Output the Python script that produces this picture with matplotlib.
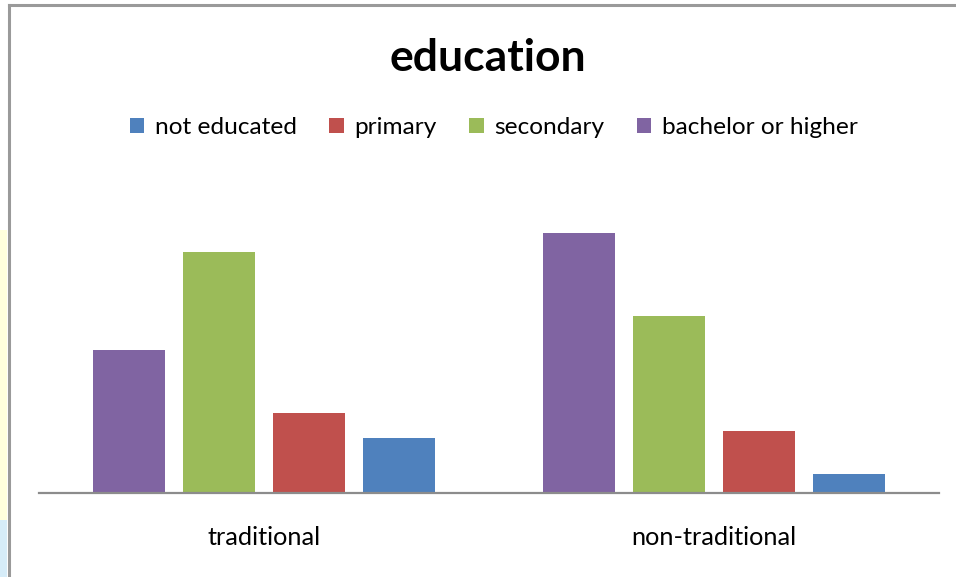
import matplotlib
matplotlib.use("Agg")
import matplotlib.pyplot as plt
from matplotlib.patches import Rectangle, Patch
from matplotlib.lines import Line2D

# Share of each education level (%) per group
categories = ["traditional", "non-traditional"]
series_names = ["bachelor or higher", "secondary", "primary", "not educated"]
bachelor = [27.6, 50.1]
secondary = [46.4, 34.1]
primary = [15.4, 11.9]
not_educated = [10.6, 3.7]

series_values = [bachelor, secondary, primary, not_educated]
colors = {
    "not educated": "#4F81BD",
    "primary": "#C0504D",
    "secondary": "#9BBB59",
    "bachelor or higher": "#8064A2",
}
legend_order = ["not educated", "primary", "secondary", "bachelor or higher"]

W, H = 956, 577
fig = plt.figure(figsize=(W / 100, H / 100), dpi=100)
fig.patch.set_facecolor("white")
plt.rcParams["font.family"] = ["Lato", "DejaVu Sans"]

# chart frame
fig.add_artist(Line2D([9 / W, 9 / W], [0, 1 - 5 / H], transform=fig.transFigure,
                      color="#9A9A9A", lw=2.2))
fig.add_artist(Line2D([9 / W, 1], [1 - 5 / H, 1 - 5 / H], transform=fig.transFigure,
                      color="#9A9A9A", lw=2.2))
# faint strip to the left of the frame
fig.add_artist(Rectangle((0, (H - 520) / H), 7 / W, 290 / H, transform=fig.transFigure,
                         facecolor="#FFFFDD", edgecolor="none"))
fig.add_artist(Rectangle((0, 0), 7 / W, (H - 520) / H, transform=fig.transFigure,
                         facecolor="#D6ECF8", edgecolor="none"))

ax = fig.add_axes([39 / W, 84 / H, 900 / W, 311 / H])
ax.set_xlim(-0.5, 1.5)
ax.set_ylim(0, 60)

width = 0.16
step = 0.2
offsets = [-1.5 * step, -0.5 * step, 0.5 * step, 1.5 * step]
for name, vals, off in zip(series_names, series_values, offsets):
    ax.bar([i + off for i in range(len(categories))], vals, width=width,
           color=colors[name], edgecolor="none", zorder=2)

for s in ["top", "right", "left"]:
    ax.spines[s].set_visible(False)
ax.spines["bottom"].set_color("#8C8C8C")
ax.spines["bottom"].set_linewidth(1.6)
ax.set_yticks([])
ax.set_xticks(range(len(categories)))
ax.set_xticklabels(categories, fontsize=18.2, color="#000000")
ax.tick_params(axis="x", length=0, pad=24)

fig.text(488 / W, 1 - 58 / H, "education", ha="center", va="center",
         fontsize=32, fontweight="bold", color="#000000")

handles = [Patch(facecolor=colors[n], edgecolor="none") for n in legend_order]
fig.legend(handles, legend_order, loc="center", bbox_to_anchor=(494 / W, 1 - 128 / H),
           ncol=4, frameon=False, fontsize=17.6, handlelength=0.58, handleheight=0.58,
           handletextpad=0.45, columnspacing=1.33)

fig.savefig("out.png", dpi=100)
